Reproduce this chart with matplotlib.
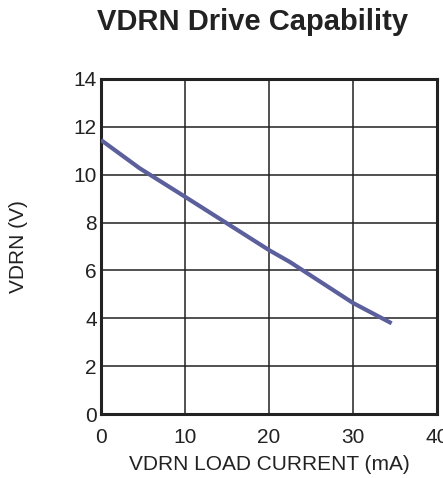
import matplotlib
matplotlib.use("Agg")
import matplotlib.pyplot as plt

plt.rcParams['font.family'] = ['Liberation Sans', 'DejaVu Sans']

current_ma = [0, 4.6, 10, 20, 22.5, 30, 34.6]
vdrn_v = [11.45, 10.27, 9.08, 6.85, 6.35, 4.64, 3.79]
x_ticks = [0, 10, 20, 30, 40]
y_ticks = [0, 2, 4, 6, 8, 10, 12, 14]

fig = plt.figure(figsize=(4.43, 4.78), dpi=100)
ax = fig.add_axes([101/443, 1-414/478, 336/443, 335/478])

ax.plot(current_ma, vdrn_v, color='#5b5f9c', lw=3, solid_capstyle='butt', zorder=3)
ax.set_xlim(0, 40)
ax.set_ylim(0, 14)
ax.set_xticks(x_ticks)
ax.set_yticks(y_ticks)
ax.grid(True, color='#222222', lw=1.1)
ax.tick_params(length=0, labelsize=15, colors='#222222')
ax.tick_params(axis='x', pad=10)
ax.tick_params(axis='y', pad=3)
for s in ax.spines.values():
    s.set_color('#222222')
    s.set_linewidth(2.2)

ax.set_xlabel('VDRN LOAD CURRENT (mA)', fontsize=15, color='#222222')
ax.xaxis.set_label_coords(0.5, -0.122)
ax.set_ylabel('VDRN (V)', fontsize=15, color='#222222')
ax.yaxis.set_label_coords(-0.217, 0.5)
fig.text(253/443, 1-22/478, 'VDRN Drive Capability', fontsize=21, fontweight='bold',
         ha='center', va='center', color='#222222')

fig.savefig('out.png', dpi=100)
